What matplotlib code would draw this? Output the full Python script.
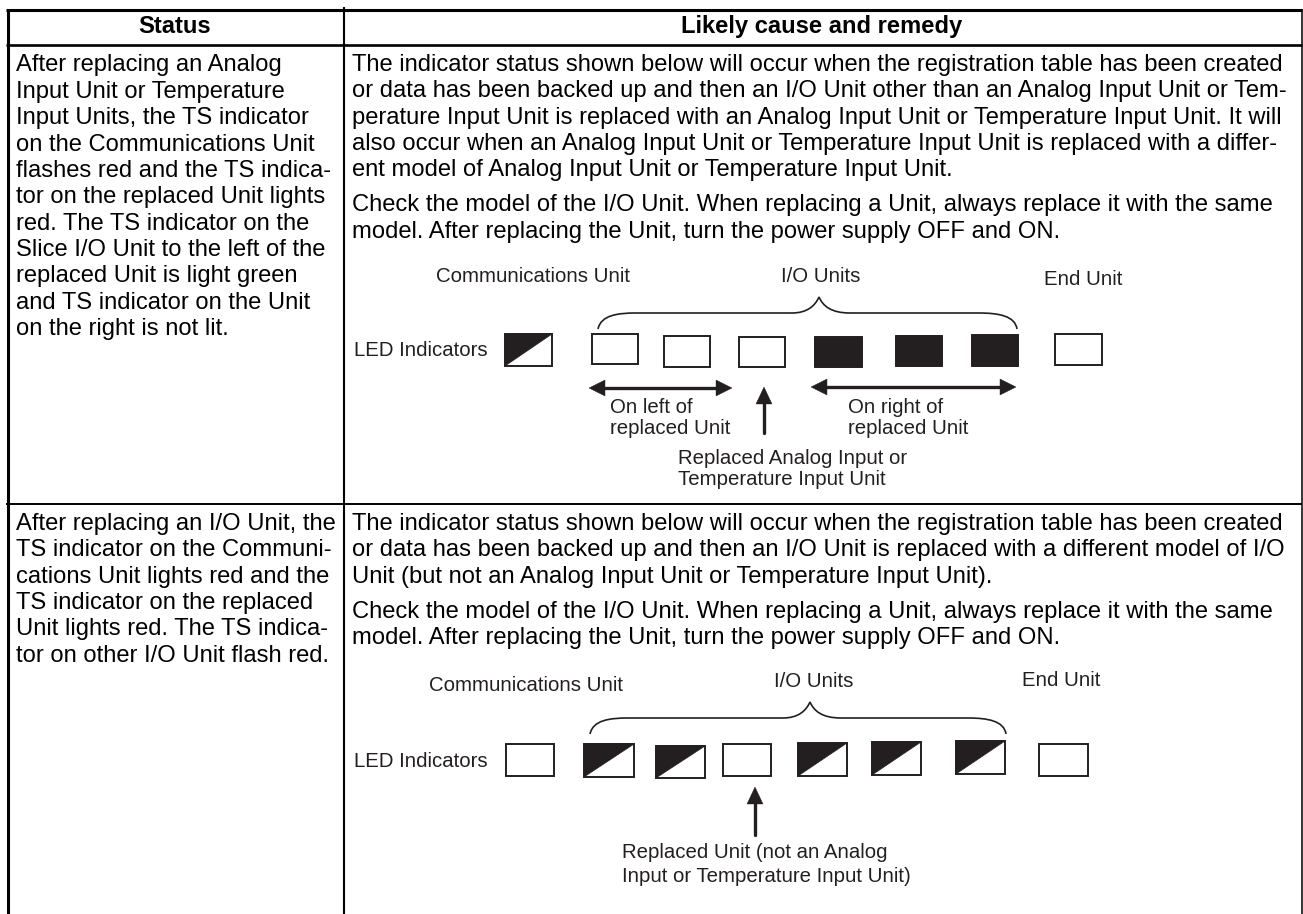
import matplotlib
matplotlib.use("Agg")
import matplotlib.pyplot as plt
from matplotlib.patches import Rectangle, Polygon, PathPatch
from matplotlib.path import Path

INK = "#231f20"
plt.rcParams['font.family'] = ['Liberation Sans', 'DejaVu Sans']

headers = ["Status", "Likely cause and remedy"]
status_1 = ["After replacing an Analog", "Input Unit or Temperature", "Input Units, the TS indicator",
            "on the Communications Unit", "flashes red and the TS indica-", "tor on the replaced Unit lights",
            "red. The TS indicator on the", "Slice I/O Unit to the left of the", "replaced Unit is light green",
            "and TS indicator on the Unit", "on the right is not lit."]
status_2 = ["After replacing an I/O Unit, the", "TS indicator on the Communi-", "cations Unit lights red and the",
            "TS indicator on the replaced", "Unit lights red. The TS indica-", "tor on other I/O Unit flash red."]
remedy_1a = ["The indicator status shown below will occur when the registration table has been created",
             "or data has been backed up and then an I/O Unit other than an Analog Input Unit or Tem-",
             "perature Input Unit is replaced with an Analog Input Unit or Temperature Input Unit. It will",
             "also occur when an Analog Input Unit or Temperature Input Unit is replaced with a differ-",
             "ent model of Analog Input Unit or Temperature Input Unit."]
remedy_b = ["Check the model of the I/O Unit. When replacing a Unit, always replace it with the same",
            "model. After replacing the Unit, turn the power supply OFF and ON."]
remedy_2a = ["The indicator status shown below will occur when the registration table has been created",
             "or data has been backed up and then an I/O Unit is replaced with a different model of I/O",
             "Unit (but not an Analog Input Unit or Temperature Input Unit)."]

fig = plt.figure(figsize=(13.03, 9.14), dpi=100)
ax = fig.add_axes([0, 0, 1, 1])
ax.set_xlim(0, 1303)
ax.set_ylim(914, 0)
ax.axis("off")

# table rules
ax.plot([6, 1302], [10, 10], color="black", lw=2.2, solid_capstyle="butt")
ax.plot([6, 1302], [44.5, 44.5], color="black", lw=1.9, solid_capstyle="butt")
ax.plot([6, 1302], [504, 504], color="black", lw=1.4, solid_capstyle="butt")
ax.plot([7.5, 7.5], [9, 914], color="black", lw=2.2, solid_capstyle="butt")
ax.plot([344, 344], [7, 914], color="black", lw=1.5, solid_capstyle="butt")
ax.plot([1301.5, 1301.5], [9, 914], color="black", lw=1.1, solid_capstyle="butt")

FS = 17.15
LH = 26.35
def block(lines, x, y, **kw):
    for i, s in enumerate(lines):
        ax.text(x, y + i * LH, s, fontsize=FS, color="black", va="baseline", **kw)

ax.text(175, 33, headers[0], fontsize=FS, fontweight="bold", ha="center", va="baseline", color="black")
ax.text(822, 33, headers[1], fontsize=FS, fontweight="bold", ha="center", va="baseline", color="black")
block(status_1, 16, 71.5)
block(status_2, 16, 530)
block(remedy_1a, 352, 71)
block(remedy_b, 352, 211.5)
block(remedy_2a, 352, 530)
block(remedy_b, 352, 618)

def led(x0, x1, y0, y1, kind):
    if kind == "black":
        ax.add_patch(Rectangle((x0, y0), x1 - x0, y1 - y0, fc=INK, ec=INK, lw=0.7))
        return
    ax.add_patch(Rectangle((x0, y0), x1 - x0, y1 - y0, fc="white", ec=INK, lw=1.4))
    if kind == "half":
        ax.add_patch(Polygon([(x0, y0), (x1, y0), (x0, y1)], fc=INK, ec=INK, lw=0.5))

def dbl(x0, x1, y):
    ax.plot([x0 + 8, x1 - 8], [y, y], color=INK, lw=2.4, solid_capstyle="butt")
    ax.add_patch(Polygon([(x0, y), (x0 + 16, y - 8), (x0 + 16, y + 8)], fc=INK, ec=INK, lw=0.3))
    ax.add_patch(Polygon([(x1, y), (x1 - 16, y - 8), (x1 - 16, y + 8)], fc=INK, ec=INK, lw=0.3))

def up(x, ytop, ybot):
    ax.plot([x, x], [ytop + 10, ybot], color=INK, lw=2.4, solid_capstyle="round")
    ax.add_patch(Polygon([(x, ytop), (x - 8, ytop + 17), (x + 8, ytop + 17)], fc=INK, ec=INK, lw=0.3))

def brace(xl, xm, xr, ybot, ybar, ytip):
    C, L, M = Path.CURVE4, Path.LINETO, Path.MOVETO
    v = [(xl, ybot), (xl + 3, ybar + 2), (xl + 20, ybar), (xl + 38, ybar),
         (xm - 27, ybar),
         (xm - 12, ybar), (xm - 4, ybar - 7), (xm, ytip),
         (xm + 4, ybar - 7), (xm + 12, ybar), (xm + 31, ybar),
         (xr - 38, ybar),
         (xr - 18, ybar), (xr - 2, ybar + 3), (xr, ybot)]
    codes = [M, C, C, C, L, C, C, C, C, C, C, L, C, C, C]
    ax.add_patch(PathPatch(Path(v, codes), fc="none", ec=INK, lw=1.2))

def lab(x, y, s):
    ax.text(x, y, s, fontsize=14.65, color=INK, va="baseline")

# diagram 1
for b in [(505, 552, 334, 366, "half"), (592, 638, 334, 364, "open"), (664, 710, 336, 367, "open"),
          (739, 785, 337, 367, "open"), (814, 862, 336, 367, "black"), (895, 942, 335, 366, "black"),
          (971, 1018, 334, 366, "black"), (1055, 1102, 334, 365, "open")]:
    led(*b)
brace(598, 819, 1017, 329, 313, 297)
dbl(589, 732, 388)
dbl(811, 1016, 387)
up(764, 387, 433)
lab(436, 282, "Communications Unit"); lab(781, 282, "I/O Units"); lab(1044, 285, "End Unit")
lab(354, 356, "LED Indicators")
lab(610, 413, "On left of"); lab(610, 434, "replaced Unit")
lab(848, 413, "On right of"); lab(848, 434, "replaced Unit")
lab(678, 464, "Replaced Analog Input or"); lab(678, 485, "Temperature Input Unit")

# diagram 2
for b in [(506, 554, 744, 776, "open"), (584, 634, 744, 777, "half"), (656, 705, 746, 778, "half"),
          (723, 771, 744, 776, "open"), (798, 847, 743, 776, "half"), (872, 921, 742, 775, "half"),
          (956, 1005, 741, 774, "half"), (1039, 1088, 744, 776, "open")]:
    led(*b)
brace(590, 810, 1006, 734, 718, 702)
up(755, 787, 835)
lab(429, 691, "Communications Unit"); lab(774, 687, "I/O Units"); lab(1022, 686, "End Unit")
lab(354, 767, "LED Indicators")
lab(622, 858, "Replaced Unit (not an Analog"); lab(622, 882, "Input or Temperature Input Unit)")

fig.savefig("out.png", dpi=100, facecolor="white")
